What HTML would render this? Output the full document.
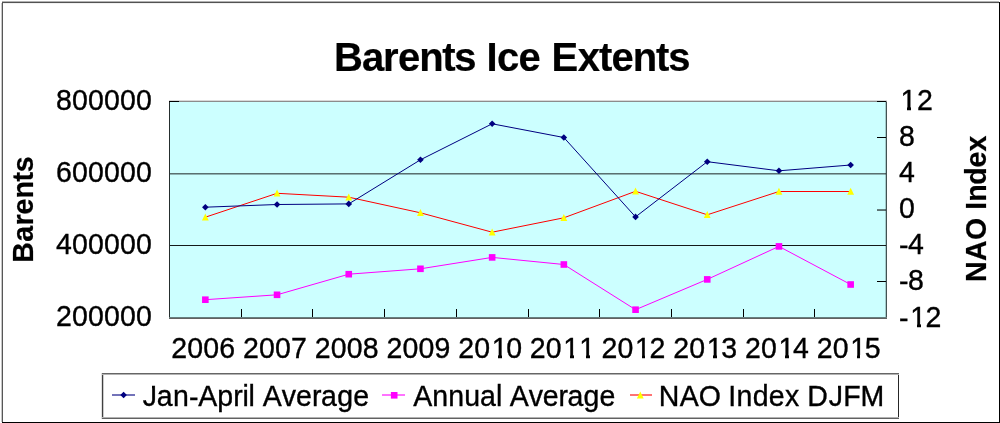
<!DOCTYPE html>
<html><head><meta charset="utf-8"><title>Barents Ice Extents</title>
<style>html,body{margin:0;padding:0;background:#fff;width:1000px;height:423px;overflow:hidden}svg{display:block}</style>
</head><body>
<svg width="1000" height="423" viewBox="0 0 1000 423" font-family="'Liberation Sans', Arial, sans-serif">
<rect x="2" y="2" width="997" height="1" fill="#000" opacity="0.68"/>
<rect x="2" y="1" width="997" height="1" fill="#000" opacity="0.3"/>
<rect x="2" y="3" width="997" height="1" fill="#000" opacity="0.05"/>
<rect x="2" y="3" width="1" height="419" fill="#000" opacity="0.66"/>
<rect x="1" y="3" width="1" height="419" fill="#000" opacity="0.22"/>
<rect x="999" y="2" width="1" height="421" fill="#000" opacity="1"/>
<rect x="2" y="422" width="998" height="1" fill="#000" opacity="1"/>
<text x="334.02 362.05 383.08 398.11 419.14 442.17 454.19" y="70.6" font-size="40" font-weight="bold" stroke="#000" stroke-width="0.2">Barents</text>
<text x="486.52 497.07 518.62" y="70.6" font-size="40" font-weight="bold" stroke="#000" stroke-width="0.2">Ice</text>
<text x="551.52 577.82 599.11 611.41 632.7 656 668.29" y="70.6" font-size="40" font-weight="bold" stroke="#000" stroke-width="0.2">Extents</text>
<rect x="169" y="102" width="718" height="216" fill="#ccffff"/>
<rect x="169" y="100" width="718" height="1" fill="#000" opacity="0.15"/>
<rect x="169" y="101" width="718" height="1" fill="#000" opacity="0.45"/>
<rect x="170" y="173" width="716" height="1" fill="#000" opacity="0.56"/>
<rect x="170" y="174" width="716" height="1" fill="#000" opacity="0.3"/>
<rect x="170" y="245" width="716" height="1" fill="#000" opacity="0.9"/>
<rect x="169" y="317" width="718" height="1" fill="#000" opacity="0.5"/>
<rect x="169" y="318" width="718" height="1" fill="#000" opacity="0.62"/>
<rect x="169" y="102" width="1" height="215" fill="#000" opacity="0.82"/>
<rect x="885" y="102" width="1" height="215" fill="#000" opacity="0.2"/>
<rect x="886" y="102" width="1" height="215" fill="#000" opacity="0.68"/>
<rect x="877" y="209" width="9" height="1" fill="#000" opacity="0.5"/>
<rect x="877" y="210" width="9" height="1" fill="#000" opacity="0.55"/>
<path d="M169 101.5H179 M877 101.5H886 M877 137.5H886 M877 281.5H886 M241.5 309V317 M312.5 309V317 M384.5 309V317 M456.5 309V317 M528.5 309V317 M599.5 309V317 M671.5 309V317 M743.5 309V317 M814.5 309V317" stroke="#000" stroke-width="1"/>
<text transform="translate(0 109.9) scale(1 1.03)" x="56.06 72.06 88.06 104.06 120.06 136.06" y="0 0 0 0 0 0" font-size="28.5" stroke="#000" stroke-width="0.35">800000</text>
<text transform="translate(0 181.9) scale(1 1.03)" x="56.06 72.06 88.06 104.06 120.06 136.06" y="0 0 0 0 0 0" font-size="28.5" stroke="#000" stroke-width="0.35">600000</text>
<text transform="translate(0 253.9) scale(1 1.03)" x="56.06 72.06 88.06 104.06 120.06 136.06" y="0 0 0 0 0 0" font-size="28.5" stroke="#000" stroke-width="0.35">400000</text>
<text transform="translate(0 325.9) scale(1 1.03)" x="56.06 72.06 88.06 104.06 120.06 136.06" y="0 0 0 0 0 0" font-size="28.5" stroke="#000" stroke-width="0.35">200000</text>
<text transform="translate(0 109.9) scale(1 1.03)" x="900.5 916.88" y="0 0" font-size="28.5" stroke="#000" stroke-width="0.35">12</text><rect x="902" y="107" width="5" height="4" fill="#fff" shape-rendering="crispEdges"/><rect x="911" y="107" width="5" height="4" fill="#fff" shape-rendering="crispEdges"/>
<text transform="translate(0 145.9) scale(1 1.03)" x="899" y="0" font-size="28.5" stroke="#000" stroke-width="0.35">8</text>
<text transform="translate(0 181.9) scale(1 1.03)" x="899" y="0" font-size="28.5" stroke="#000" stroke-width="0.35">4</text>
<text transform="translate(0 217.9) scale(1 1.03)" x="899" y="0" font-size="28.5" stroke="#000" stroke-width="0.35">0</text>
<text transform="translate(0 253.9) scale(1 1.03)" x="899 908" y="0.97 0" font-size="28.5" stroke="#000" stroke-width="0.35">-4</text>
<text transform="translate(0 289.9) scale(1 1.03)" x="899 908" y="0.97 0" font-size="28.5" stroke="#000" stroke-width="0.35">-8</text>
<text transform="translate(0 326.59999999999997) scale(1 1.03)" x="899 910.24 925.48" y="0.97 0 0" font-size="28.5" stroke="#000" stroke-width="0.35">-12</text><rect x="912" y="324" width="5" height="4" fill="#fff" shape-rendering="crispEdges"/><rect x="921" y="324" width="4" height="4" fill="#fff" shape-rendering="crispEdges"/>
<text transform="translate(0 358) scale(1 1.03)" x="171.35 187.35 203.35 219.35" y="0 0 0 0" font-size="28.5" stroke="#000" stroke-width="0.35">2006</text>
<text transform="translate(0 358) scale(1 1.03)" x="243.05 259.05 275.05 291.05" y="0 0 0 0" font-size="28.5" stroke="#000" stroke-width="0.35">2007</text>
<text transform="translate(0 358) scale(1 1.03)" x="314.75 330.75 346.75 362.75" y="0 0 0 0" font-size="28.5" stroke="#000" stroke-width="0.35">2008</text>
<text transform="translate(0 358) scale(1 1.03)" x="386.45 402.45 418.45 434.45" y="0 0 0 0" font-size="28.5" stroke="#000" stroke-width="0.35">2009</text>
<text transform="translate(0 358) scale(1 1.03)" x="458.15 474.15 491.65 506.15" y="0 0 0 0" font-size="28.5" stroke="#000" stroke-width="0.35">2010</text><rect x="493" y="355" width="5" height="4" fill="#fff" shape-rendering="crispEdges"/><rect x="502" y="355" width="5" height="4" fill="#fff" shape-rendering="crispEdges"/>
<text transform="translate(0 358) scale(1 1.03)" x="529.85 545.85 563.35 579.35" y="0 0 0 0" font-size="28.5" stroke="#000" stroke-width="0.35">2011</text><rect x="565" y="355" width="5" height="4" fill="#fff" shape-rendering="crispEdges"/><rect x="574" y="355" width="5" height="4" fill="#fff" shape-rendering="crispEdges"/><rect x="581" y="355" width="5" height="4" fill="#fff" shape-rendering="crispEdges"/><rect x="590" y="355" width="5" height="4" fill="#fff" shape-rendering="crispEdges"/>
<text transform="translate(0 358) scale(1 1.03)" x="601.55 617.55 635.05 649.55" y="0 0 0 0" font-size="28.5" stroke="#000" stroke-width="0.35">2012</text><rect x="636" y="355" width="6" height="4" fill="#fff" shape-rendering="crispEdges"/><rect x="645" y="355" width="5" height="4" fill="#fff" shape-rendering="crispEdges"/>
<text transform="translate(0 358) scale(1 1.03)" x="673.25 689.25 706.75 721.25" y="0 0 0 0" font-size="28.5" stroke="#000" stroke-width="0.35">2013</text><rect x="708" y="355" width="5" height="4" fill="#fff" shape-rendering="crispEdges"/><rect x="717" y="355" width="5" height="4" fill="#fff" shape-rendering="crispEdges"/>
<text transform="translate(0 358) scale(1 1.03)" x="744.95 760.95 778.45 792.95" y="0 0 0 0" font-size="28.5" stroke="#000" stroke-width="0.35">2014</text><rect x="780" y="355" width="5" height="4" fill="#fff" shape-rendering="crispEdges"/><rect x="789" y="355" width="5" height="4" fill="#fff" shape-rendering="crispEdges"/>
<text transform="translate(0 358) scale(1 1.03)" x="816.65 832.65 850.15 864.65" y="0 0 0 0" font-size="28.5" stroke="#000" stroke-width="0.35">2015</text><rect x="852" y="355" width="5" height="4" fill="#fff" shape-rendering="crispEdges"/><rect x="860" y="355" width="5" height="4" fill="#fff" shape-rendering="crispEdges"/>
<g transform="translate(33.0 0) rotate(-90) scale(1 1.05)"><text x="-262.71 -241.65 -225.6 -214.54 -198.49 -181.44 -172.38" y="0" font-size="28.5" font-weight="bold" stroke="#000" stroke-width="0.2">Barents</text></g>
<g transform="translate(985.8 0) rotate(-90) scale(1 1.05)"><text x="-282.11 -261.04 -239.97 -217.89 -209.82 -201.75 -184.68 -167.61 -151.54" y="0" font-size="28.5" font-weight="bold" stroke="#000" stroke-width="0.2">NAO Index</text></g>
<polyline points="205.35,299.70 277.05,294.80 348.75,274.20 420.45,268.80 492.15,257.40 563.85,264.50 635.55,309.70 707.25,279.40 778.95,246.40 850.65,284.50" fill="none" stroke="#ff00ff" stroke-width="1"/>
<polyline points="205.35,217.20 277.05,193.30 348.75,197.20 420.45,212.80 492.15,232.20 563.85,217.80 635.55,191.30 707.25,214.80 778.95,191.50 850.65,191.50" fill="none" stroke="#ff0000" stroke-width="1"/>
<polyline points="205.35,207.20 277.05,204.50 348.75,203.90 420.45,159.80 492.15,123.80 563.85,137.50 635.55,216.90 707.25,161.70 778.95,170.80 850.65,165.00" fill="none" stroke="#000080" stroke-width="1"/>
<rect x="202.05" y="296.40" width="6.6" height="6.6" fill="#ff00ff"/>
<rect x="273.75" y="291.50" width="6.6" height="6.6" fill="#ff00ff"/>
<rect x="345.45" y="270.90" width="6.6" height="6.6" fill="#ff00ff"/>
<rect x="417.15" y="265.50" width="6.6" height="6.6" fill="#ff00ff"/>
<rect x="488.85" y="254.10" width="6.6" height="6.6" fill="#ff00ff"/>
<rect x="560.55" y="261.20" width="6.6" height="6.6" fill="#ff00ff"/>
<rect x="632.25" y="306.40" width="6.6" height="6.6" fill="#ff00ff"/>
<rect x="703.95" y="276.10" width="6.6" height="6.6" fill="#ff00ff"/>
<rect x="775.65" y="243.10" width="6.6" height="6.6" fill="#ff00ff"/>
<rect x="847.35" y="281.20" width="6.6" height="6.6" fill="#ff00ff"/>
<path d="M205.35 213.40L208.75 220.50L201.95 220.50Z" fill="#ffff00"/>
<path d="M277.05 189.50L280.45 196.60L273.65 196.60Z" fill="#ffff00"/>
<path d="M348.75 193.40L352.15 200.50L345.35 200.50Z" fill="#ffff00"/>
<path d="M420.45 209.00L423.85 216.10L417.05 216.10Z" fill="#ffff00"/>
<path d="M492.15 228.40L495.55 235.50L488.75 235.50Z" fill="#ffff00"/>
<path d="M563.85 214.00L567.25 221.10L560.45 221.10Z" fill="#ffff00"/>
<path d="M635.55 187.50L638.95 194.60L632.15 194.60Z" fill="#ffff00"/>
<path d="M707.25 211.00L710.65 218.10L703.85 218.10Z" fill="#ffff00"/>
<path d="M778.95 187.70L782.35 194.80L775.55 194.80Z" fill="#ffff00"/>
<path d="M850.65 187.70L854.05 194.80L847.25 194.80Z" fill="#ffff00"/>
<path d="M205.35 203.90L208.65 207.20L205.35 210.50L202.05 207.20Z" fill="#000080"/>
<path d="M277.05 201.20L280.35 204.50L277.05 207.80L273.75 204.50Z" fill="#000080"/>
<path d="M348.75 200.60L352.05 203.90L348.75 207.20L345.45 203.90Z" fill="#000080"/>
<path d="M420.45 156.50L423.75 159.80L420.45 163.10L417.15 159.80Z" fill="#000080"/>
<path d="M492.15 120.50L495.45 123.80L492.15 127.10L488.85 123.80Z" fill="#000080"/>
<path d="M563.85 134.20L567.15 137.50L563.85 140.80L560.55 137.50Z" fill="#000080"/>
<path d="M635.55 213.60L638.85 216.90L635.55 220.20L632.25 216.90Z" fill="#000080"/>
<path d="M707.25 158.40L710.55 161.70L707.25 165.00L703.95 161.70Z" fill="#000080"/>
<path d="M778.95 167.50L782.25 170.80L778.95 174.10L775.65 170.80Z" fill="#000080"/>
<path d="M850.65 161.70L853.95 165.00L850.65 168.30L847.35 165.00Z" fill="#000080"/>
<rect x="102" y="373" width="797" height="1" fill="#000" opacity="0.6"/>
<rect x="102" y="374" width="797" height="1" fill="#000" opacity="0.3"/>
<rect x="102" y="417" width="797" height="1" fill="#000" opacity="0.3"/>
<rect x="102" y="418" width="797" height="1" fill="#000" opacity="0.62"/>
<rect x="102" y="375" width="1" height="42" fill="#000" opacity="0.75"/>
<rect x="101" y="373" width="1" height="46" fill="#000" opacity="0.12"/>
<rect x="103" y="375" width="1" height="42" fill="#000" opacity="0.2"/>
<rect x="898" y="375" width="1" height="42" fill="#000" opacity="0.85"/>
<path d="M112 395H135" stroke="#000080" stroke-width="1.1"/>
<path d="M123.60 391.70L126.90 395.00L123.60 398.30L120.30 395.00Z" fill="#000080"/>
<path d="M382 395H405" stroke="#ff00ff" stroke-width="1.1"/>
<rect x="390.90" y="392.00" width="6.6" height="6.6" fill="#ff00ff"/>
<path d="M630 395H652" stroke="#ff0000" stroke-width="1.1"/>
<path d="M640.30 391.50L643.70 398.60L636.90 398.60Z" fill="#ffff00"/>
<text transform="translate(0 406) scale(1 1.03)" x="142.75 156.85 172.95 189.05 198.15 217.24 233.34 242.44 248.54 254.63 262.73 281.83 295.93 312.02 321.12 337.22 353.32" y="0 0 0 0.97 0 0 0 0 0 0 0 0 0 0 0 0 0" font-size="28.5" stroke="#000" stroke-width="0.35">Jan-April Average</text><rect x="148" y="385" width="4" height="4" fill="#fff" shape-rendering="crispEdges"/>
<text transform="translate(0 406) scale(1 1.03)" x="413.34 432.27 448.2 464.13 480.06 495.99 501.92 509.84 528.77 542.7 558.63 567.56 583.49 599.42" y="0 0 0 0 0 0 0 0 0 0 0 0 0 0" font-size="28.5" stroke="#000" stroke-width="0.35">Annual Average</text>
<text transform="translate(0 406) scale(1 1.03)" x="658.86 679.78 698.7" y="0 0 0" font-size="28.5" stroke="#000" stroke-width="0.35">NAO</text>
<text transform="translate(0 406) scale(1 1.03)" x="728.27 736.47 752.66 768.86 785.06" y="0 0 0 0 0" font-size="28.5" stroke="#000" stroke-width="0.35">Index</text>
<text transform="translate(0 406) scale(1 1.03)" x="807.26 828.71 843.15 860.6" y="0 0 0 0" font-size="28.5" stroke="#000" stroke-width="0.35">DJFM</text><rect x="834" y="385" width="4" height="4" fill="#fff" shape-rendering="crispEdges"/>
</svg>
</body></html>
